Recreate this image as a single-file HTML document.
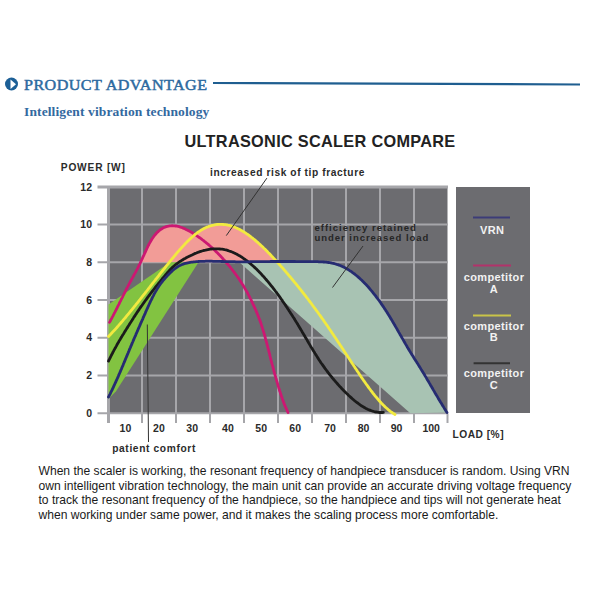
<!DOCTYPE html>
<html><head><meta charset="utf-8"><style>
html,body{margin:0;padding:0;background:#fff;}
body{width:600px;height:600px;position:relative;overflow:hidden;}
.abs{position:absolute;white-space:nowrap;}
#h1{left:23.8px;top:78.6px;font:14px/1 "Liberation Serif",serif;letter-spacing:0.4px;color:#2d6aa0;-webkit-text-stroke:0.45px #2d6aa0;transform:scaleX(1.15);transform-origin:0 0;}
#h2{left:24.2px;top:105.5px;font:bold 12.5px/1 "Liberation Serif",serif;letter-spacing:0.1px;color:#33699f;transform:scaleX(1.083);transform-origin:0 0;}
#title{left:184.5px;top:133.3px;font:bold 16.3px/1 "Liberation Sans",sans-serif;letter-spacing:0.3px;color:#222;}
#para{left:38.5px;top:464.2px;font:12.1px/14.5px "Liberation Sans",sans-serif;color:#1a1a1a;}
svg text{font-family:"Liberation Sans",sans-serif;font-weight:bold;}
</style></head><body>
<svg class="abs" style="left:0;top:0" width="600" height="600" viewBox="0 0 600 600">
 <circle cx="11.5" cy="84" r="6.5" fill="#1c5f96"/>
 <path d="M10.5,79.5 L16,84.2 L10.5,89 Z" fill="#fff"/>
 <line x1="213" y1="83" x2="580" y2="84.5" stroke="#1f5e90" stroke-width="2.2"/>
 <rect x="108" y="186" width="339.5" height="227.5" fill="#6c6c70"/>
 <g stroke="#a6a6aa" stroke-width="2"><line x1="142.0" y1="186.9" x2="142.0" y2="423"/>
<line x1="176.0" y1="186.9" x2="176.0" y2="423"/>
<line x1="210.0" y1="186.9" x2="210.0" y2="423"/>
<line x1="244.0" y1="186.9" x2="244.0" y2="423"/>
<line x1="278.0" y1="186.9" x2="278.0" y2="423"/>
<line x1="312.0" y1="186.9" x2="312.0" y2="423"/>
<line x1="346.0" y1="186.9" x2="346.0" y2="423"/>
<line x1="380.0" y1="186.9" x2="380.0" y2="423"/>
<line x1="414.0" y1="186.9" x2="414.0" y2="423"/>
<line x1="108.5" y1="186" x2="108.5" y2="423" stroke-width="3"/>
<line x1="447.5" y1="413.5" x2="447.5" y2="423"/>
<line x1="97.5" y1="413.3" x2="448.0" y2="413.3"/>
<line x1="97.5" y1="375.6" x2="448.0" y2="375.6"/>
<line x1="97.5" y1="337.8" x2="448.0" y2="337.8"/>
<line x1="97.5" y1="300.1" x2="448.0" y2="300.1"/>
<line x1="97.5" y1="262.3" x2="448.0" y2="262.3"/>
<line x1="97.5" y1="224.6" x2="448.0" y2="224.6"/>
<line x1="97.5" y1="187" x2="448.0" y2="187" stroke-width="3"/></g>
 <clipPath id="cs"><rect x="100" y="180" width="360" height="82.3"/></clipPath>
 <path d="M109.5,322.4 L110.1,321.4 L110.6,320.3 L111.2,319.3 L111.8,318.2 L112.3,317.1 L112.9,316.1 L113.4,315.0 L114.0,313.9 L114.5,312.9 L115.1,311.8 L115.6,310.7 L116.2,309.7 L116.7,308.6 L117.3,307.5 L117.8,306.4 L118.3,305.4 L118.9,304.3 L119.4,303.2 L119.9,302.1 L120.5,301.1 L121.0,300.0 L121.5,298.9 L122.1,297.8 L122.6,296.8 L123.1,295.7 L123.7,294.6 L124.2,293.5 L124.8,292.5 L125.3,291.4 L125.8,290.3 L126.4,289.3 L126.9,288.2 L127.5,287.1 L128.0,286.1 L128.6,285.0 L129.2,283.9 L129.7,282.9 L130.3,281.8 L130.9,280.8 L131.4,279.7 L132.0,278.6 L132.6,277.6 L133.2,276.5 L133.8,275.5 L134.3,274.4 L134.9,273.4 L135.5,272.3 L136.0,271.3 L136.6,270.2 L137.2,269.1 L137.7,268.1 L138.3,267.0 L138.8,265.9 L139.3,264.9 L139.9,263.8 L140.4,262.7 L140.9,261.6 L141.4,260.5 L141.9,259.4 L142.4,258.3 L142.9,257.2 L143.4,256.1 L143.9,255.1 L144.4,254.0 L144.9,252.9 L145.4,251.8 L145.9,250.7 L146.4,249.6 L146.9,248.5 L147.4,247.4 L147.9,246.3 L148.5,245.3 L149.0,244.2 L149.6,243.1 L150.2,242.1 L150.8,241.0 L151.4,240.0 L152.0,239.0 L152.7,238.0 L153.4,237.0 L154.1,236.0 L154.8,235.1 L155.6,234.2 L156.4,233.3 L157.2,232.4 L158.1,231.6 L159.0,230.8 L159.9,230.0 L160.9,229.3 L161.9,228.7 L162.9,228.1 L164.0,227.6 L165.1,227.1 L166.3,226.7 L167.4,226.4 L168.6,226.1 L169.8,225.9 L171.0,225.8 L172.2,225.7 L173.4,225.8 L174.6,225.8 L175.8,226.0 L176.9,226.2 L178.1,226.4 L179.3,226.7 L180.4,227.1 L181.6,227.5 L182.7,227.9 L183.8,228.4 L184.9,228.8 L186.0,229.4 L187.1,229.9 L188.1,230.4 L189.2,231.0 L190.2,231.6 L191.3,232.2 L192.3,232.8 L193.3,233.5 L194.3,234.1 L195.3,234.8 L196.3,235.4 L197.3,236.1 L198.3,236.8 L199.3,237.5 L200.3,238.2 L201.3,238.9 L202.2,239.6 L203.2,240.3 L204.1,241.1 L205.1,241.8 L206.0,242.6 L206.9,243.3 L207.9,244.1 L208.8,244.9 L209.7,245.7 L210.6,246.5 L211.5,247.3 L212.4,248.1 L213.2,248.9 L214.1,249.7 L215.0,250.5 L215.9,251.4 L216.7,252.2 L217.6,253.1 L218.4,253.9 L219.2,254.8 L220.1,255.6 L220.9,256.5 L221.7,257.4 L222.5,258.3 L223.3,259.2 L224.1,260.0 L224.9,260.9 L225.7,261.9 L226.5,262.8 L227.3,263.7 L228.1,264.6 L228.8,265.5 L229.6,266.4 L230.4,267.4 L231.1,268.3 L231.9,269.3 L232.6,270.2 L233.3,271.2 L234.1,272.1 L234.8,273.1 L235.5,274.0 L236.2,275.0 L236.9,276.0 L237.6,277.0 L238.3,277.9 L239.0,278.9 L239.6,279.9 L240.3,280.9 L240.9,281.9 L241.6,283.0 L242.2,284.0 L242.9,285.0 L243.5,286.0 L244.1,287.0 L244.7,288.1 L245.3,289.1 L245.9,290.2 L246.5,291.2 L247.1,292.3 L247.7,293.3 L248.2,294.4 L248.8,295.4 L249.3,296.5 L249.9,297.6 Z M140.4,299.0 L141.1,298.1 L141.9,297.1 L142.6,296.2 L143.4,295.2 L144.1,294.3 L144.9,293.4 L145.6,292.4 L146.3,291.5 L147.1,290.5 L147.8,289.6 L148.5,288.6 L149.3,287.7 L150.0,286.7 L150.8,285.8 L151.5,284.8 L152.2,283.9 L153.0,282.9 L153.7,282.0 L154.5,281.0 L155.2,280.1 L155.9,279.1 L156.7,278.2 L157.4,277.3 L158.2,276.3 L158.9,275.4 L159.6,274.4 L160.4,273.5 L161.1,272.5 L161.9,271.6 L162.6,270.6 L163.4,269.7 L164.1,268.8 L164.9,267.8 L165.6,266.9 L166.4,265.9 L167.1,265.0 L167.9,264.1 L168.6,263.1 L169.4,262.2 L170.1,261.3 L170.9,260.3 L171.6,259.4 L172.4,258.5 L173.2,257.6 L173.9,256.6 L174.7,255.7 L175.5,254.8 L176.2,253.9 L177.0,252.9 L177.8,252.0 L178.6,251.1 L179.4,250.2 L180.2,249.3 L181.0,248.4 L181.8,247.5 L182.6,246.6 L183.4,245.7 L184.2,244.9 L185.0,244.0 L185.8,243.1 L186.7,242.3 L187.5,241.4 L188.4,240.6 L189.2,239.7 L190.1,238.9 L191.0,238.1 L191.9,237.3 L192.8,236.5 L193.7,235.7 L194.6,234.9 L195.5,234.1 L196.5,233.4 L197.4,232.7 L198.4,232.0 L199.4,231.3 L200.4,230.6 L201.4,230.0 L202.4,229.4 L203.5,228.8 L204.6,228.2 L205.6,227.7 L206.7,227.2 L207.9,226.8 L209.0,226.4 L210.1,226.0 L211.3,225.6 L212.4,225.3 L213.6,225.1 L214.8,224.8 L216.0,224.6 L217.2,224.5 L218.4,224.4 L219.6,224.4 L220.8,224.4 L222.0,224.4 L223.2,224.5 L224.4,224.6 L225.5,224.7 L226.7,224.9 L227.9,225.2 L229.1,225.4 L230.2,225.7 L231.4,226.1 L232.5,226.5 L233.7,226.9 L234.8,227.3 L235.9,227.8 L237.0,228.2 L238.1,228.8 L239.2,229.3 L240.2,229.8 L241.3,230.4 L242.3,231.0 L243.3,231.6 L244.4,232.3 L245.4,232.9 L246.4,233.6 L247.4,234.3 L248.4,234.9 L249.3,235.6 L250.3,236.4 L251.2,237.1 L252.2,237.8 L253.1,238.6 L254.1,239.3 L255.0,240.1 L255.9,240.9 L256.8,241.7 L257.7,242.4 L258.6,243.2 L259.5,244.0 L260.4,244.9 L261.3,245.7 L262.2,246.5 L263.0,247.3 L263.9,248.2 L264.8,249.0 L265.6,249.8 L266.5,250.7 L267.3,251.5 L268.1,252.4 L269.0,253.3 L269.8,254.1 L270.7,255.0 L271.5,255.9 L272.3,256.7 L273.1,257.6 L273.9,258.5 L274.8,259.4 L275.6,260.3 L276.4,261.1 L277.2,262.0 L278.0,262.9 L278.8,263.8 L279.6,264.7 L280.4,265.6 L281.2,266.5 L282.0,267.4 L282.8,268.3 L283.6,269.2 L284.4,270.1 L285.1,271.0 L285.9,271.9 L286.7,272.9 L287.5,273.8 L288.3,274.7 L289.0,275.6 L289.8,276.5 L290.6,277.4 L291.4,278.4 L292.1,279.3 L292.9,280.2 L293.7,281.1 L294.4,282.1 L295.2,283.0 L296.0,283.9 L296.7,284.8 L297.5,285.8 L298.2,286.7 L299.0,287.6 L299.7,288.6 Z" fill="#f29c97" clip-path="url(#cs)"/>
 <path d="M108.5,304.5 L170,262.3 L198.5,262.3 L116,391.2 L108.5,399 Z" fill="#82c341"/>
 <path d="M238.5,261.5 L239.5,261.8 L240.7,261.8 L241.9,261.8 L243.1,261.8 L244.3,261.8 L245.5,261.8 L246.7,261.8 L247.9,261.8 L249.1,261.8 L250.3,261.7 L251.5,261.7 L252.7,261.7 L253.9,261.7 L255.1,261.7 L256.3,261.7 L257.5,261.7 L258.7,261.7 L259.9,261.7 L261.1,261.6 L262.3,261.6 L263.5,261.6 L264.7,261.6 L266.0,261.6 L267.2,261.6 L268.4,261.6 L269.6,261.6 L270.8,261.5 L272.0,261.5 L273.2,261.5 L274.4,261.5 L275.6,261.5 L276.8,261.5 L278.0,261.5 L279.2,261.5 L280.4,261.5 L281.6,261.5 L282.8,261.5 L284.0,261.5 L285.2,261.5 L286.4,261.5 L287.6,261.5 L288.8,261.5 L290.0,261.5 L291.2,261.5 L292.4,261.5 L293.6,261.5 L294.8,261.5 L296.0,261.6 L297.2,261.6 L298.4,261.6 L299.6,261.6 L300.8,261.6 L302.0,261.6 L303.2,261.6 L304.4,261.6 L305.6,261.6 L306.8,261.7 L308.1,261.7 L309.3,261.7 L310.5,261.7 L311.7,261.7 L312.9,261.7 L314.1,261.7 L315.3,261.7 L316.5,261.7 L317.7,261.7 L318.9,261.8 L320.1,261.8 L321.3,261.9 L322.5,261.9 L323.7,262.0 L324.9,262.1 L326.1,262.2 L327.3,262.4 L328.5,262.5 L329.7,262.7 L330.8,262.9 L332.0,263.2 L333.2,263.4 L334.4,263.7 L335.5,264.0 L336.7,264.4 L337.8,264.7 L339.0,265.1 L340.1,265.5 L341.2,266.0 L342.3,266.5 L343.4,267.0 L344.5,267.5 L345.5,268.1 L346.6,268.7 L347.6,269.3 L348.6,269.9 L349.7,270.6 L350.7,271.2 L351.7,271.9 L352.6,272.6 L353.6,273.3 L354.6,274.0 L355.5,274.8 L356.4,275.5 L357.4,276.3 L358.3,277.1 L359.2,277.9 L360.1,278.7 L360.9,279.5 L361.8,280.3 L362.7,281.2 L363.5,282.0 L364.4,282.9 L365.2,283.8 L366.0,284.6 L366.9,285.5 L367.7,286.4 L368.5,287.3 L369.3,288.2 L370.0,289.1 L370.8,290.0 L371.6,291.0 L372.4,291.9 L373.1,292.8 L373.9,293.8 L374.6,294.7 L375.4,295.6 L376.1,296.6 L376.8,297.6 L377.5,298.5 L378.2,299.5 L379.0,300.5 L379.7,301.4 L380.4,302.4 L381.0,303.4 L381.7,304.4 L382.4,305.4 L383.1,306.4 L383.8,307.4 L384.4,308.4 L385.1,309.4 L385.7,310.4 L386.4,311.4 L387.0,312.4 L387.7,313.4 L388.3,314.5 L389.0,315.5 L389.6,316.5 L390.2,317.5 L390.8,318.6 L391.5,319.6 L392.1,320.6 L392.7,321.7 L393.3,322.7 L393.9,323.7 L394.5,324.8 L395.1,325.8 L395.7,326.9 L396.3,327.9 L396.9,328.9 L397.5,330.0 L398.1,331.0 L398.7,332.1 L399.3,333.1 L399.9,334.2 L400.5,335.2 L401.1,336.3 L401.7,337.3 L402.3,338.4 L402.9,339.4 L403.5,340.4 L404.1,341.5 L404.7,342.5 L405.3,343.6 L405.9,344.6 L406.5,345.6 L407.1,346.7 L407.7,347.7 L408.3,348.8 L408.9,349.8 L409.5,350.8 L410.2,351.8 L410.8,352.9 L411.4,353.9 L412.1,354.9 L412.7,355.9 L413.4,356.9 L414.0,358.0 L414.6,359.0 L415.3,360.0 L415.9,361.0 L416.6,362.0 L417.2,363.0 L417.9,364.1 L418.5,365.1 L419.1,366.1 L419.8,367.1 L420.4,368.1 L421.0,369.2 L421.7,370.2 L422.3,371.2 L422.9,372.2 L423.5,373.3 L424.2,374.3 L424.8,375.3 L425.4,376.4 L426.0,377.4 L426.6,378.4 L427.2,379.5 L427.8,380.5 L428.5,381.5 L429.1,382.6 L429.7,383.6 L430.3,384.7 L430.9,385.7 L431.5,386.7 L432.1,387.8 L432.7,388.8 L433.3,389.9 L433.9,390.9 L434.5,391.9 L435.1,393.0 L435.7,394.0 L436.3,395.0 L437.0,396.1 L437.6,397.1 L438.2,398.2 L438.8,399.2 L439.4,400.2 L440.0,401.3 L440.6,402.3 L441.3,403.3 L441.9,404.3 L442.5,405.4 L443.2,406.4 L443.8,407.4 L444.4,408.4 L445.1,409.5 L445.7,410.5 L446.3,411.5 L447.0,412.5 L410.3,413.3 Z" fill="#a8c3b3"/>
 <g fill="none" stroke-width="2.8" stroke-linecap="round" stroke-linejoin="round">
  <path d="M109.5,322.4 L110.1,321.4 L110.6,320.3 L111.2,319.3 L111.8,318.2 L112.3,317.1 L112.9,316.1 L113.4,315.0 L114.0,313.9 L114.5,312.9 L115.1,311.8 L115.6,310.7 L116.2,309.7 L116.7,308.6 L117.3,307.5 L117.8,306.4 L118.3,305.4 L118.9,304.3 L119.4,303.2 L119.9,302.1 L120.5,301.1 L121.0,300.0 L121.5,298.9 L122.1,297.8 L122.6,296.8 L123.1,295.7 L123.7,294.6 L124.2,293.5 L124.8,292.5 L125.3,291.4 L125.8,290.3 L126.4,289.3 L126.9,288.2 L127.5,287.1 L128.0,286.1 L128.6,285.0 L129.2,283.9 L129.7,282.9 L130.3,281.8 L130.9,280.8 L131.4,279.7 L132.0,278.6 L132.6,277.6 L133.2,276.5 L133.8,275.5 L134.3,274.4 L134.9,273.4 L135.5,272.3 L136.0,271.3 L136.6,270.2 L137.2,269.1 L137.7,268.1 L138.3,267.0 L138.8,265.9 L139.3,264.9 L139.9,263.8 L140.4,262.7 L140.9,261.6 L141.4,260.5 L141.9,259.4 L142.4,258.3 L142.9,257.2 L143.4,256.1 L143.9,255.1 L144.4,254.0 L144.9,252.9 L145.4,251.8 L145.9,250.7 L146.4,249.6 L146.9,248.5 L147.4,247.4 L147.9,246.3 L148.5,245.3 L149.0,244.2 L149.6,243.1 L150.2,242.1 L150.8,241.0 L151.4,240.0 L152.0,239.0 L152.7,238.0 L153.4,237.0 L154.1,236.0 L154.8,235.1 L155.6,234.2 L156.4,233.3 L157.2,232.4 L158.1,231.6 L159.0,230.8 L159.9,230.0 L160.9,229.3 L161.9,228.7 L162.9,228.1 L164.0,227.6 L165.1,227.1 L166.3,226.7 L167.4,226.4 L168.6,226.1 L169.8,225.9 L171.0,225.8 L172.2,225.7 L173.4,225.8 L174.6,225.8 L175.8,226.0 L176.9,226.2 L178.1,226.4 L179.3,226.7 L180.4,227.1 L181.6,227.5 L182.7,227.9 L183.8,228.4 L184.9,228.8 L186.0,229.4 L187.1,229.9 L188.1,230.4 L189.2,231.0 L190.2,231.6 L191.3,232.2 L192.3,232.8 L193.3,233.5 L194.3,234.1 L195.3,234.8 L196.3,235.4 L197.3,236.1 L198.3,236.8 L199.3,237.5 L200.3,238.2 L201.3,238.9 L202.2,239.6 L203.2,240.3 L204.1,241.1 L205.1,241.8 L206.0,242.6 L206.9,243.3 L207.9,244.1 L208.8,244.9 L209.7,245.7 L210.6,246.5 L211.5,247.3 L212.4,248.1 L213.2,248.9 L214.1,249.7 L215.0,250.5 L215.9,251.4 L216.7,252.2 L217.6,253.1 L218.4,253.9 L219.2,254.8 L220.1,255.6 L220.9,256.5 L221.7,257.4 L222.5,258.3 L223.3,259.2 L224.1,260.0 L224.9,260.9 L225.7,261.9 L226.5,262.8 L227.3,263.7 L228.1,264.6 L228.8,265.5 L229.6,266.4 L230.4,267.4 L231.1,268.3 L231.9,269.3 L232.6,270.2 L233.3,271.2 L234.1,272.1 L234.8,273.1 L235.5,274.0 L236.2,275.0 L236.9,276.0 L237.6,277.0 L238.3,277.9 L239.0,278.9 L239.6,279.9 L240.3,280.9 L240.9,281.9 L241.6,283.0 L242.2,284.0 L242.9,285.0 L243.5,286.0 L244.1,287.0 L244.7,288.1 L245.3,289.1 L245.9,290.2 L246.5,291.2 L247.1,292.3 L247.7,293.3 L248.2,294.4 L248.8,295.4 L249.3,296.5 L249.9,297.6 L250.4,298.6 L251.0,299.7 L251.5,300.8 L252.0,301.9 L252.5,303.0 L253.0,304.1 L253.5,305.1 L254.0,306.2 L254.5,307.3 L255.0,308.4 L255.5,309.5 L256.0,310.6 L256.4,311.7 L256.9,312.8 L257.4,314.0 L257.8,315.1 L258.3,316.2 L258.7,317.3 L259.1,318.4 L259.5,319.6 L260.0,320.7 L260.4,321.8 L260.8,322.9 L261.2,324.1 L261.5,325.2 L261.9,326.4 L262.3,327.5 L262.6,328.6 L263.0,329.8 L263.3,330.9 L263.7,332.1 L264.0,333.2 L264.4,334.4 L264.7,335.6 L265.0,336.7 L265.3,337.9 L265.6,339.0 L265.9,340.2 L266.3,341.4 L266.6,342.5 L266.9,343.7 L267.2,344.8 L267.5,346.0 L267.8,347.2 L268.1,348.3 L268.4,349.5 L268.7,350.7 L269.0,351.8 L269.3,353.0 L269.6,354.1 L269.9,355.3 L270.1,356.5 L270.4,357.6 L270.7,358.8 L271.0,360.0 L271.3,361.1 L271.6,362.3 L271.9,363.5 L272.2,364.6 L272.6,365.8 L272.9,366.9 L273.2,368.1 L273.5,369.3 L273.8,370.4 L274.1,371.6 L274.4,372.7 L274.7,373.9 L275.1,375.1 L275.4,376.2 L275.7,377.4 L276.0,378.5 L276.4,379.7 L276.7,380.8 L277.0,382.0 L277.4,383.1 L277.7,384.3 L278.0,385.4 L278.4,386.6 L278.7,387.7 L279.1,388.9 L279.4,390.0 L279.8,391.2 L280.2,392.3 L280.5,393.5 L280.9,394.6 L281.3,395.7 L281.7,396.9 L282.1,398.0 L282.5,399.2 L282.9,400.3 L283.3,401.4 L283.7,402.5 L284.1,403.7 L284.6,404.8 L285.0,405.9 L285.5,407.0 L286.0,408.1 L286.5,409.2 L287.0,410.3 L287.5,411.4 L288.0,412.5" stroke="#cc1872"/>
  <path d="M108.5,361.1 L109.0,360.0 L109.6,358.9 L110.1,357.8 L110.6,356.8 L111.2,355.7 L111.7,354.6 L112.3,353.5 L112.8,352.5 L113.4,351.4 L113.9,350.4 L114.5,349.3 L115.1,348.2 L115.7,347.2 L116.3,346.1 L116.8,345.1 L117.4,344.0 L118.0,343.0 L118.6,342.0 L119.2,340.9 L119.8,339.9 L120.5,338.8 L121.1,337.8 L121.7,336.8 L122.3,335.7 L122.9,334.7 L123.6,333.7 L124.2,332.7 L124.8,331.6 L125.5,330.6 L126.1,329.6 L126.7,328.6 L127.4,327.6 L128.0,326.5 L128.7,325.5 L129.3,324.5 L129.9,323.5 L130.6,322.5 L131.2,321.5 L131.9,320.5 L132.5,319.5 L133.2,318.4 L133.8,317.4 L134.5,316.4 L135.2,315.4 L135.8,314.4 L136.5,313.4 L137.1,312.4 L137.8,311.4 L138.5,310.4 L139.2,309.4 L139.8,308.4 L140.5,307.4 L141.2,306.4 L141.9,305.5 L142.6,304.5 L143.3,303.5 L144.0,302.5 L144.7,301.5 L145.4,300.5 L146.1,299.6 L146.8,298.6 L147.5,297.6 L148.2,296.7 L148.9,295.7 L149.7,294.8 L150.4,293.8 L151.1,292.8 L151.8,291.9 L152.6,290.9 L153.3,290.0 L154.1,289.0 L154.8,288.1 L155.5,287.2 L156.3,286.2 L157.0,285.3 L157.8,284.3 L158.5,283.4 L159.3,282.5 L160.1,281.5 L160.8,280.6 L161.6,279.7 L162.3,278.7 L163.1,277.8 L163.9,276.9 L164.6,276.0 L165.4,275.0 L166.2,274.1 L167.0,273.2 L167.8,272.3 L168.6,271.4 L169.4,270.5 L170.2,269.6 L171.0,268.8 L171.9,267.9 L172.8,267.1 L173.7,266.3 L174.6,265.5 L175.5,264.7 L176.4,264.0 L177.4,263.3 L178.4,262.6 L179.4,261.9 L180.4,261.2 L181.4,260.6 L182.4,260.0 L183.4,259.3 L184.5,258.7 L185.5,258.2 L186.6,257.6 L187.6,257.0 L188.7,256.5 L189.8,255.9 L190.9,255.4 L192.0,254.9 L193.0,254.4 L194.1,253.9 L195.3,253.4 L196.4,253.0 L197.5,252.5 L198.6,252.1 L199.7,251.7 L200.9,251.3 L202.0,251.0 L203.2,250.7 L204.4,250.3 L205.5,250.1 L206.7,249.8 L207.9,249.6 L209.1,249.4 L210.3,249.2 L211.4,249.0 L212.6,248.9 L213.8,248.9 L215.0,248.8 L216.2,248.8 L217.4,248.8 L218.6,248.9 L219.8,249.0 L221.0,249.1 L222.2,249.2 L223.4,249.4 L224.6,249.7 L225.8,249.9 L226.9,250.2 L228.1,250.6 L229.2,251.0 L230.4,251.4 L231.5,251.8 L232.6,252.2 L233.7,252.7 L234.8,253.2 L235.9,253.8 L236.9,254.3 L238.0,254.9 L239.0,255.5 L240.1,256.1 L241.1,256.7 L242.1,257.4 L243.1,258.1 L244.1,258.8 L245.1,259.5 L246.0,260.2 L247.0,260.9 L247.9,261.6 L248.9,262.4 L249.8,263.1 L250.7,263.9 L251.6,264.7 L252.5,265.5 L253.4,266.3 L254.3,267.1 L255.2,267.9 L256.1,268.8 L256.9,269.6 L257.8,270.5 L258.6,271.3 L259.5,272.2 L260.3,273.0 L261.1,273.9 L261.9,274.8 L262.7,275.7 L263.6,276.6 L264.4,277.5 L265.1,278.4 L265.9,279.3 L266.7,280.2 L267.5,281.1 L268.3,282.0 L269.0,283.0 L269.8,283.9 L270.5,284.8 L271.3,285.8 L272.0,286.7 L272.8,287.7 L273.5,288.6 L274.3,289.6 L275.0,290.5 L275.7,291.5 L276.4,292.4 L277.1,293.4 L277.9,294.4 L278.6,295.3 L279.3,296.3 L280.0,297.3 L280.7,298.3 L281.4,299.3 L282.1,300.2 L282.7,301.2 L283.4,302.2 L284.1,303.2 L284.8,304.2 L285.5,305.2 L286.1,306.2 L286.8,307.2 L287.5,308.2 L288.1,309.2 L288.8,310.2 L289.4,311.2 L290.1,312.2 L290.7,313.2 L291.4,314.2 L292.0,315.3 L292.7,316.3 L293.3,317.3 L294.0,318.3 L294.6,319.3 L295.2,320.3 L295.9,321.4 L296.5,322.4 L297.1,323.4 L297.8,324.4 L298.4,325.5 L299.0,326.5 L299.6,327.5 L300.2,328.6 L300.9,329.6 L301.5,330.6 L302.1,331.7 L302.7,332.7 L303.3,333.7 L303.9,334.8 L304.5,335.8 L305.1,336.8 L305.7,337.9 L306.4,338.9 L307.0,339.9 L307.6,341.0 L308.2,342.0 L308.8,343.1 L309.4,344.1 L310.0,345.1 L310.6,346.2 L311.2,347.2 L311.9,348.2 L312.5,349.3 L313.1,350.3 L313.7,351.3 L314.4,352.3 L315.0,353.4 L315.6,354.4 L316.3,355.4 L316.9,356.4 L317.5,357.4 L318.2,358.4 L318.8,359.5 L319.5,360.5 L320.2,361.5 L320.8,362.5 L321.5,363.5 L322.2,364.4 L322.9,365.4 L323.6,366.4 L324.3,367.4 L325.0,368.4 L325.7,369.3 L326.4,370.3 L327.1,371.3 L327.9,372.2 L328.6,373.2 L329.3,374.1 L330.1,375.1 L330.8,376.0 L331.6,376.9 L332.3,377.9 L333.1,378.8 L333.9,379.7 L334.7,380.6 L335.4,381.5 L336.2,382.4 L337.0,383.3 L337.8,384.2 L338.6,385.1 L339.4,386.0 L340.3,386.9 L341.1,387.8 L341.9,388.7 L342.7,389.5 L343.6,390.4 L344.4,391.3 L345.2,392.1 L346.1,393.0 L347.0,393.8 L347.8,394.6 L348.7,395.5 L349.6,396.3 L350.5,397.1 L351.4,397.9 L352.3,398.7 L353.2,399.5 L354.1,400.3 L355.0,401.0 L356.0,401.8 L356.9,402.5 L357.9,403.2 L358.8,403.9 L359.8,404.6 L360.8,405.3 L361.8,406.0 L362.8,406.6 L363.9,407.2 L364.9,407.8 L366.0,408.4 L367.1,408.9 L368.1,409.4 L369.2,409.9 L370.4,410.4 L371.5,410.8 L372.6,411.2 L373.8,411.5 L374.9,411.8 L376.1,412.0 L377.3,412.2 L378.5,412.4 L379.7,412.5 L380.9,412.5 L382.1,412.5 L383.3,412.4" stroke="#1b1b1b"/>
  <path d="M108.5,336.5 L109.3,335.6 L110.2,334.8 L111.0,333.9 L111.8,333.0 L112.6,332.1 L113.4,331.3 L114.2,330.4 L115.1,329.5 L115.9,328.6 L116.7,327.7 L117.5,326.8 L118.3,325.9 L119.0,325.0 L119.8,324.1 L120.6,323.2 L121.4,322.3 L122.2,321.4 L123.0,320.4 L123.7,319.5 L124.5,318.6 L125.3,317.7 L126.1,316.8 L126.8,315.8 L127.6,314.9 L128.4,314.0 L129.1,313.1 L129.9,312.1 L130.6,311.2 L131.4,310.3 L132.2,309.3 L132.9,308.4 L133.7,307.5 L134.4,306.5 L135.2,305.6 L135.9,304.7 L136.7,303.7 L137.4,302.8 L138.2,301.8 L138.9,300.9 L139.7,300.0 L140.4,299.0 L141.1,298.1 L141.9,297.1 L142.6,296.2 L143.4,295.2 L144.1,294.3 L144.9,293.4 L145.6,292.4 L146.3,291.5 L147.1,290.5 L147.8,289.6 L148.5,288.6 L149.3,287.7 L150.0,286.7 L150.8,285.8 L151.5,284.8 L152.2,283.9 L153.0,282.9 L153.7,282.0 L154.5,281.0 L155.2,280.1 L155.9,279.1 L156.7,278.2 L157.4,277.3 L158.2,276.3 L158.9,275.4 L159.6,274.4 L160.4,273.5 L161.1,272.5 L161.9,271.6 L162.6,270.6 L163.4,269.7 L164.1,268.8 L164.9,267.8 L165.6,266.9 L166.4,265.9 L167.1,265.0 L167.9,264.1 L168.6,263.1 L169.4,262.2 L170.1,261.3 L170.9,260.3 L171.6,259.4 L172.4,258.5 L173.2,257.6 L173.9,256.6 L174.7,255.7 L175.5,254.8 L176.2,253.9 L177.0,252.9 L177.8,252.0 L178.6,251.1 L179.4,250.2 L180.2,249.3 L181.0,248.4 L181.8,247.5 L182.6,246.6 L183.4,245.7 L184.2,244.9 L185.0,244.0 L185.8,243.1 L186.7,242.3 L187.5,241.4 L188.4,240.6 L189.2,239.7 L190.1,238.9 L191.0,238.1 L191.9,237.3 L192.8,236.5 L193.7,235.7 L194.6,234.9 L195.5,234.1 L196.5,233.4 L197.4,232.7 L198.4,232.0 L199.4,231.3 L200.4,230.6 L201.4,230.0 L202.4,229.4 L203.5,228.8 L204.6,228.2 L205.6,227.7 L206.7,227.2 L207.9,226.8 L209.0,226.4 L210.1,226.0 L211.3,225.6 L212.4,225.3 L213.6,225.1 L214.8,224.8 L216.0,224.6 L217.2,224.5 L218.4,224.4 L219.6,224.4 L220.8,224.4 L222.0,224.4 L223.2,224.5 L224.4,224.6 L225.5,224.7 L226.7,224.9 L227.9,225.2 L229.1,225.4 L230.2,225.7 L231.4,226.1 L232.5,226.5 L233.7,226.9 L234.8,227.3 L235.9,227.8 L237.0,228.2 L238.1,228.8 L239.2,229.3 L240.2,229.8 L241.3,230.4 L242.3,231.0 L243.3,231.6 L244.4,232.3 L245.4,232.9 L246.4,233.6 L247.4,234.3 L248.4,234.9 L249.3,235.6 L250.3,236.4 L251.2,237.1 L252.2,237.8 L253.1,238.6 L254.1,239.3 L255.0,240.1 L255.9,240.9 L256.8,241.7 L257.7,242.4 L258.6,243.2 L259.5,244.0 L260.4,244.9 L261.3,245.7 L262.2,246.5 L263.0,247.3 L263.9,248.2 L264.8,249.0 L265.6,249.8 L266.5,250.7 L267.3,251.5 L268.1,252.4 L269.0,253.3 L269.8,254.1 L270.7,255.0 L271.5,255.9 L272.3,256.7 L273.1,257.6 L273.9,258.5 L274.8,259.4 L275.6,260.3 L276.4,261.1 L277.2,262.0 L278.0,262.9 L278.8,263.8 L279.6,264.7 L280.4,265.6 L281.2,266.5 L282.0,267.4 L282.8,268.3 L283.6,269.2 L284.4,270.1 L285.1,271.0 L285.9,271.9 L286.7,272.9 L287.5,273.8 L288.3,274.7 L289.0,275.6 L289.8,276.5 L290.6,277.4 L291.4,278.4 L292.1,279.3 L292.9,280.2 L293.7,281.1 L294.4,282.1 L295.2,283.0 L296.0,283.9 L296.7,284.8 L297.5,285.8 L298.2,286.7 L299.0,287.6 L299.7,288.6 L300.5,289.5 L301.2,290.5 L302.0,291.4 L302.7,292.4 L303.4,293.3 L304.2,294.2 L304.9,295.2 L305.7,296.1 L306.4,297.1 L307.1,298.0 L307.9,299.0 L308.6,300.0 L309.3,300.9 L310.0,301.9 L310.8,302.8 L311.5,303.8 L312.2,304.8 L312.9,305.7 L313.6,306.7 L314.3,307.7 L315.0,308.6 L315.8,309.6 L316.5,310.6 L317.2,311.5 L317.9,312.5 L318.6,313.5 L319.3,314.5 L320.0,315.4 L320.7,316.4 L321.4,317.4 L322.1,318.4 L322.8,319.3 L323.5,320.3 L324.1,321.3 L324.8,322.3 L325.5,323.3 L326.2,324.3 L326.9,325.2 L327.6,326.2 L328.3,327.2 L328.9,328.2 L329.6,329.2 L330.3,330.2 L331.0,331.2 L331.7,332.2 L332.3,333.2 L333.0,334.2 L333.7,335.2 L334.3,336.2 L335.0,337.2 L335.7,338.2 L336.4,339.2 L337.0,340.2 L337.7,341.2 L338.3,342.2 L339.0,343.2 L339.7,344.2 L340.3,345.2 L341.0,346.2 L341.7,347.2 L342.3,348.2 L343.0,349.2 L343.6,350.2 L344.3,351.2 L344.9,352.2 L345.6,353.2 L346.2,354.2 L346.9,355.2 L347.6,356.2 L348.2,357.2 L348.9,358.2 L349.5,359.3 L350.2,360.3 L350.8,361.3 L351.5,362.3 L352.1,363.3 L352.8,364.3 L353.5,365.3 L354.1,366.3 L354.8,367.3 L355.4,368.3 L356.1,369.3 L356.8,370.3 L357.4,371.3 L358.1,372.3 L358.8,373.3 L359.4,374.3 L360.1,375.3 L360.8,376.3 L361.4,377.3 L362.1,378.3 L362.8,379.3 L363.5,380.3 L364.2,381.2 L364.9,382.2 L365.6,383.2 L366.3,384.2 L367.0,385.2 L367.7,386.1 L368.4,387.1 L369.1,388.1 L369.8,389.0 L370.5,390.0 L371.2,391.0 L372.0,391.9 L372.7,392.9 L373.4,393.8 L374.2,394.7 L374.9,395.7 L375.7,396.6 L376.5,397.5 L377.3,398.4 L378.0,399.4 L378.8,400.3 L379.6,401.2 L380.4,402.0 L381.2,402.9 L382.1,403.8 L382.9,404.7 L383.8,405.5 L384.6,406.4 L385.5,407.2 L386.4,408.0 L387.3,408.8 L388.2,409.6 L389.1,410.3 L390.0,411.1 L391.0,411.8 L392.0,412.5 L393.0,413.2 L394.0,413.8 L395.0,414.5" stroke="#f2ea40"/>
  <path d="M108.5,397.0 L109.1,395.9 L109.6,394.9 L110.2,393.8 L110.7,392.7 L111.2,391.6 L111.8,390.5 L112.3,389.5 L112.8,388.4 L113.3,387.3 L113.8,386.2 L114.3,385.1 L114.8,384.0 L115.3,382.9 L115.8,381.8 L116.3,380.7 L116.8,379.6 L117.3,378.5 L117.8,377.4 L118.3,376.3 L118.7,375.2 L119.2,374.1 L119.7,373.0 L120.2,371.9 L120.6,370.8 L121.1,369.7 L121.6,368.6 L122.0,367.5 L122.5,366.4 L123.0,365.3 L123.4,364.1 L123.9,363.0 L124.4,361.9 L124.8,360.8 L125.3,359.7 L125.7,358.6 L126.2,357.5 L126.7,356.4 L127.1,355.3 L127.6,354.2 L128.1,353.0 L128.5,351.9 L129.0,350.8 L129.4,349.7 L129.9,348.6 L130.4,347.5 L130.8,346.4 L131.3,345.3 L131.8,344.2 L132.2,343.1 L132.7,342.0 L133.2,340.8 L133.7,339.7 L134.1,338.6 L134.6,337.5 L135.1,336.4 L135.6,335.3 L136.0,334.2 L136.5,333.1 L137.0,332.0 L137.5,330.9 L137.9,329.8 L138.4,328.7 L138.9,327.6 L139.4,326.5 L139.9,325.4 L140.3,324.3 L140.8,323.2 L141.3,322.1 L141.8,321.0 L142.3,319.9 L142.8,318.8 L143.2,317.7 L143.7,316.6 L144.2,315.5 L144.7,314.4 L145.2,313.3 L145.6,312.2 L146.1,311.1 L146.6,310.0 L147.1,308.9 L147.6,307.8 L148.1,306.7 L148.6,305.6 L149.1,304.5 L149.6,303.4 L150.1,302.3 L150.6,301.2 L151.2,300.1 L151.7,299.0 L152.2,298.0 L152.7,296.9 L153.3,295.8 L153.8,294.8 L154.4,293.7 L155.0,292.6 L155.6,291.6 L156.2,290.6 L156.8,289.5 L157.4,288.5 L158.1,287.5 L158.7,286.5 L159.4,285.5 L160.1,284.5 L160.8,283.5 L161.5,282.6 L162.3,281.6 L163.0,280.7 L163.8,279.7 L164.6,278.8 L165.4,277.9 L166.2,277.0 L167.0,276.1 L167.8,275.3 L168.6,274.4 L169.5,273.5 L170.3,272.7 L171.2,271.9 L172.1,271.0 L173.0,270.2 L173.9,269.5 L174.8,268.7 L175.8,268.0 L176.8,267.3 L177.8,266.7 L178.8,266.0 L179.9,265.5 L181.0,265.0 L182.1,264.5 L183.2,264.1 L184.4,263.7 L185.5,263.4 L186.7,263.1 L187.9,262.8 L189.1,262.6 L190.2,262.4 L191.4,262.2 L192.6,262.1 L193.8,261.9 L195.0,261.8 L196.2,261.7 L197.4,261.6 L198.6,261.5 L199.8,261.4 L201.0,261.4 L202.2,261.3 L203.4,261.3 L204.6,261.3 L205.8,261.2 L207.0,261.2 L208.2,261.2 L209.4,261.2 L210.6,261.2 L211.8,261.2 L213.0,261.3 L214.2,261.3 L215.4,261.3 L216.6,261.3 L217.8,261.4 L219.0,261.4 L220.2,261.4 L221.5,261.5 L222.7,261.5 L223.9,261.6 L225.1,261.6 L226.3,261.6 L227.5,261.6 L228.7,261.7 L229.9,261.7 L231.1,261.7 L232.3,261.7 L233.5,261.7 L234.7,261.7 L235.9,261.8 L237.1,261.8 L238.3,261.8 L239.5,261.8 L240.7,261.8 L241.9,261.8 L243.1,261.8 L244.3,261.8 L245.5,261.8 L246.7,261.8 L247.9,261.8 L249.1,261.8 L250.3,261.7 L251.5,261.7 L252.7,261.7 L253.9,261.7 L255.1,261.7 L256.3,261.7 L257.5,261.7 L258.7,261.7 L259.9,261.7 L261.1,261.6 L262.3,261.6 L263.5,261.6 L264.7,261.6 L266.0,261.6 L267.2,261.6 L268.4,261.6 L269.6,261.6 L270.8,261.5 L272.0,261.5 L273.2,261.5 L274.4,261.5 L275.6,261.5 L276.8,261.5 L278.0,261.5 L279.2,261.5 L280.4,261.5 L281.6,261.5 L282.8,261.5 L284.0,261.5 L285.2,261.5 L286.4,261.5 L287.6,261.5 L288.8,261.5 L290.0,261.5 L291.2,261.5 L292.4,261.5 L293.6,261.5 L294.8,261.5 L296.0,261.6 L297.2,261.6 L298.4,261.6 L299.6,261.6 L300.8,261.6 L302.0,261.6 L303.2,261.6 L304.4,261.6 L305.6,261.6 L306.8,261.7 L308.1,261.7 L309.3,261.7 L310.5,261.7 L311.7,261.7 L312.9,261.7 L314.1,261.7 L315.3,261.7 L316.5,261.7 L317.7,261.7 L318.9,261.8 L320.1,261.8 L321.3,261.9 L322.5,261.9 L323.7,262.0 L324.9,262.1 L326.1,262.2 L327.3,262.4 L328.5,262.5 L329.7,262.7 L330.8,262.9 L332.0,263.2 L333.2,263.4 L334.4,263.7 L335.5,264.0 L336.7,264.4 L337.8,264.7 L339.0,265.1 L340.1,265.5 L341.2,266.0 L342.3,266.5 L343.4,267.0 L344.5,267.5 L345.5,268.1 L346.6,268.7 L347.6,269.3 L348.6,269.9 L349.7,270.6 L350.7,271.2 L351.7,271.9 L352.6,272.6 L353.6,273.3 L354.6,274.0 L355.5,274.8 L356.4,275.5 L357.4,276.3 L358.3,277.1 L359.2,277.9 L360.1,278.7 L360.9,279.5 L361.8,280.3 L362.7,281.2 L363.5,282.0 L364.4,282.9 L365.2,283.8 L366.0,284.6 L366.9,285.5 L367.7,286.4 L368.5,287.3 L369.3,288.2 L370.0,289.1 L370.8,290.0 L371.6,291.0 L372.4,291.9 L373.1,292.8 L373.9,293.8 L374.6,294.7 L375.4,295.6 L376.1,296.6 L376.8,297.6 L377.5,298.5 L378.2,299.5 L379.0,300.5 L379.7,301.4 L380.4,302.4 L381.0,303.4 L381.7,304.4 L382.4,305.4 L383.1,306.4 L383.8,307.4 L384.4,308.4 L385.1,309.4 L385.7,310.4 L386.4,311.4 L387.0,312.4 L387.7,313.4 L388.3,314.5 L389.0,315.5 L389.6,316.5 L390.2,317.5 L390.8,318.6 L391.5,319.6 L392.1,320.6 L392.7,321.7 L393.3,322.7 L393.9,323.7 L394.5,324.8 L395.1,325.8 L395.7,326.9 L396.3,327.9 L396.9,328.9 L397.5,330.0 L398.1,331.0 L398.7,332.1 L399.3,333.1 L399.9,334.2 L400.5,335.2 L401.1,336.3 L401.7,337.3 L402.3,338.4 L402.9,339.4 L403.5,340.4 L404.1,341.5 L404.7,342.5 L405.3,343.6 L405.9,344.6 L406.5,345.6 L407.1,346.7 L407.7,347.7 L408.3,348.8 L408.9,349.8 L409.5,350.8 L410.2,351.8 L410.8,352.9 L411.4,353.9 L412.1,354.9 L412.7,355.9 L413.4,356.9 L414.0,358.0 L414.6,359.0 L415.3,360.0 L415.9,361.0 L416.6,362.0 L417.2,363.0 L417.9,364.1 L418.5,365.1 L419.1,366.1 L419.8,367.1 L420.4,368.1 L421.0,369.2 L421.7,370.2 L422.3,371.2 L422.9,372.2 L423.5,373.3 L424.2,374.3 L424.8,375.3 L425.4,376.4 L426.0,377.4 L426.6,378.4 L427.2,379.5 L427.8,380.5 L428.5,381.5 L429.1,382.6 L429.7,383.6 L430.3,384.7 L430.9,385.7 L431.5,386.7 L432.1,387.8 L432.7,388.8 L433.3,389.9 L433.9,390.9 L434.5,391.9 L435.1,393.0 L435.7,394.0 L436.3,395.0 L437.0,396.1 L437.6,397.1 L438.2,398.2 L438.8,399.2 L439.4,400.2 L440.0,401.3 L440.6,402.3 L441.3,403.3 L441.9,404.3 L442.5,405.4 L443.2,406.4 L443.8,407.4 L444.4,408.4 L445.1,409.5 L445.7,410.5 L446.3,411.5 L447.0,412.5" stroke="#262c72"/>
 </g>
 <g stroke="#333" stroke-width="1">
  <line x1="266.9" y1="178.1" x2="226.3" y2="235.6"/>
  <line x1="363" y1="246" x2="332.5" y2="287.5"/>
  <line x1="147.3" y1="324.5" x2="148.5" y2="442"/>
 </g>
 <g font-size="10.2" fill="#2b2b2b">
  <text x="210" y="176.1" letter-spacing="0.6">increased risk of tip fracture</text>
  <text x="314.5" y="230.6" fill="#262626" font-size="9.5" letter-spacing="1.0">efficiency retained</text>
  <text x="314.5" y="241" fill="#262626" font-size="9.5" letter-spacing="0.96">under increased load</text>
  <text x="112.2" y="452" letter-spacing="0.64">patient comfort</text>
  <text x="452.5" y="438" letter-spacing="0.5">LOAD [%]</text>
  <text x="60.8" y="170.8" letter-spacing="0.8">POWER [W]</text>
 </g>
 <g font-size="10.5" fill="#2b2b2b"><text x="92" y="416.9" text-anchor="end">0</text><text x="92" y="379.2" text-anchor="end">2</text><text x="92" y="341.4" text-anchor="end">4</text><text x="92" y="303.7" text-anchor="end">6</text><text x="92" y="265.9" text-anchor="end">8</text><text x="92" y="228.2" text-anchor="end">10</text><text x="92" y="190.5" text-anchor="end">12</text><text x="125.4" y="431.8" text-anchor="middle">10</text><text x="158.9" y="431.8" text-anchor="middle">20</text><text x="192.2" y="431.8" text-anchor="middle">30</text><text x="227.9" y="431.8" text-anchor="middle">40</text><text x="261.2" y="431.8" text-anchor="middle">50</text><text x="295.2" y="431.8" text-anchor="middle">60</text><text x="330.0" y="431.8" text-anchor="middle">70</text><text x="363.5" y="431.8" text-anchor="middle">80</text><text x="396.6" y="431.8" text-anchor="middle">90</text><text x="431.2" y="431.8" text-anchor="middle">100</text></g>
 <rect x="456" y="187" width="74" height="226" fill="#6c6c70"/>
 <g stroke-width="2">
  <line x1="473" y1="217.4" x2="510" y2="217.4" stroke="#3c3c78"/>
  <line x1="473" y1="265.6" x2="511" y2="265.6" stroke="#b2326a"/>
  <line x1="473" y1="315.6" x2="511" y2="315.6" stroke="#c9c448"/>
  <line x1="473.6" y1="363.2" x2="510" y2="363.2" stroke="#333"/>
 </g>
 <g font-size="11" fill="#f2f2f2" text-anchor="middle" letter-spacing="0.38">
  <text x="492.2" y="234">VRN</text>
  <text x="494" y="281.4">competitor</text><text x="493.8" y="293">A</text>
  <text x="494" y="329.8">competitor</text><text x="493.8" y="341.2">B</text>
  <text x="494" y="377.2">competitor</text><text x="493.8" y="388.5">C</text>
 </g>
</svg>
<div class="abs" id="h1">PRODUCT ADVANTAGE</div>
<div class="abs" id="h2">Intelligent vibration technology</div>
<div class="abs" id="title">ULTRASONIC SCALER COMPARE</div>
<div class="abs" id="para">When the scaler is working, the resonant frequency of handpiece transducer is random. Using VRN<br>own intelligent vibration technology, the main unit can provide an accurate driving voltage frequency<br>to track the resonant frequency of the handpiece, so the handpiece and tips will not generate heat<br>when working under same power, and it makes the scaling process more comfortable.</div>
</body></html>
